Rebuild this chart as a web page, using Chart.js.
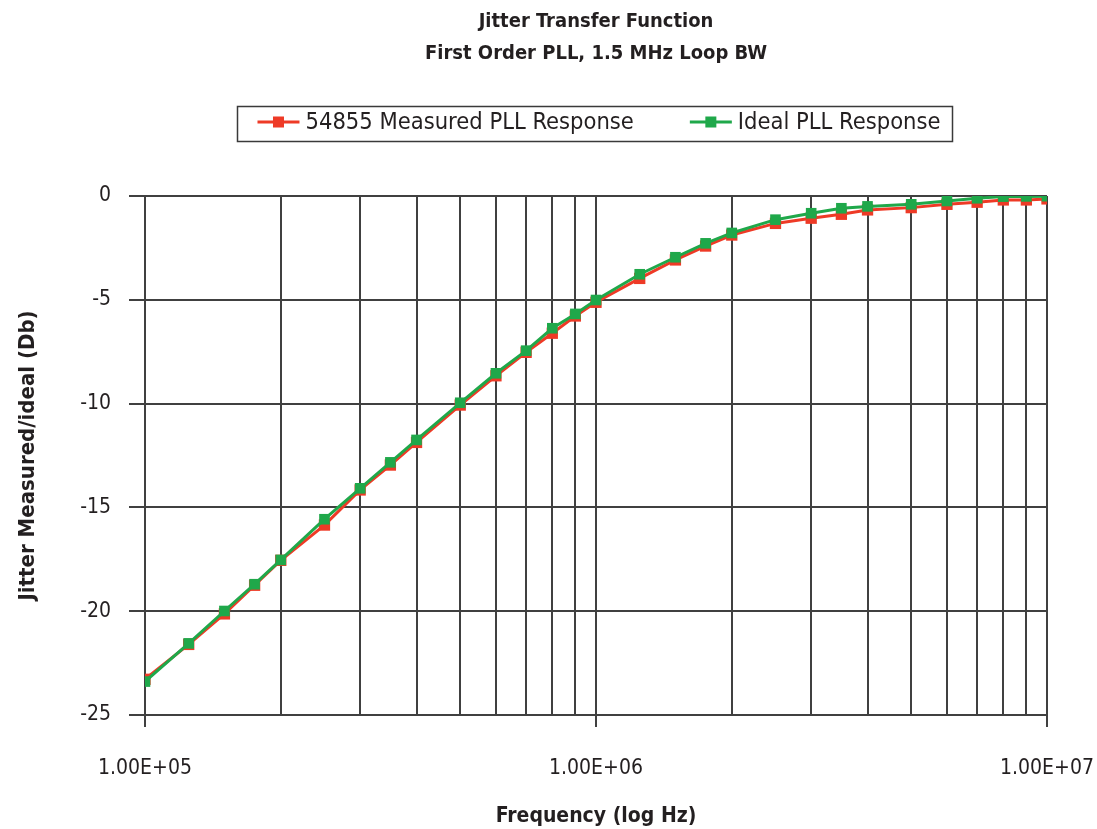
<!DOCTYPE html>
<html><head><meta charset="utf-8">
<script src="https://cdn.jsdelivr.net/npm/chart.js@4.4.1/dist/chart.umd.min.js"></script>
<style>html,body{margin:0;padding:0;background:#fff;}#wrap{width:1097px;height:829px;position:relative;}</style>
</head><body><div id="wrap"><canvas id="c"></canvas></div>
<script>
// ---- data ----
const frequencies = [1e5,1.25e5,1.5e5,1.75e5,2e5,2.5e5,3e5,3.5e5,4e5,5e5,6e5,7e5,8e5,9e5,
  1e6,1.25e6,1.5e6,1.75e6,2e6,2.5e6,3e6,3.5e6,4e6,5e6,6e6,7e6,8e6,9e6,1e7];
const measuredDb = [-23.28,-21.60,-20.13,-18.75,-17.55,-15.85,-14.16,-12.96,-11.87,-10.07,-8.66,-7.53,-6.61,-5.78,
  -5.12,-3.97,-3.08,-2.41,-1.88,-1.32,-1.07,-0.88,-0.67,-0.56,-0.40,-0.30,-0.19,-0.19,-0.14];
const idealDb = [-23.39,-21.55,-19.99,-18.70,-17.53,-15.57,-14.08,-12.83,-11.75,-9.96,-8.54,-7.45,-6.37,-5.68,
  -5.01,-3.77,-2.95,-2.28,-1.78,-1.14,-0.83,-0.59,-0.50,-0.40,-0.24,-0.11,-0.03,-0.02,-0.01];
const seriesNames = ['54855 Measured PLL Response','Ideal PLL Response'];
const titleLines = ['Jitter Transfer Function','First Order PLL, 1.5 MHz Loop BW'];
const xAxisTitle = 'Frequency (log Hz)';
const yAxisTitle = 'Jitter Measured/ideal (Db)';
const xDecades = [1e5,1e6];
const xMultipliers = [1,2,3,4,5,6,7,8,9];
const xMax = 1e7;
const xLabelValues = [1e5,1e6,1e7];
const xLabelTexts = ['1.00E+05','1.00E+06','1.00E+07'];
const yMin = -25, yMax = 0, yStep = 5;

// ---- style ----
const FONT = "'Liberation Sans Narrow','DejaVu Sans Condensed','Roboto Condensed','Arial Narrow',Roboto,sans-serif";
const TEXT = '#231f20';
const GRID = '#404040';
const RED = '#ee3a26';
const GREEN = '#1fa84a';

const xGridValues = [];
xDecades.forEach(d => xMultipliers.forEach(m => xGridValues.push(d*m)));
xGridValues.push(xMax);
const isLabelled = v => xLabelValues.some(l => Math.abs(l - v) / l < 1e-9);

const legendBox = {
  id: 'legendBox',
  afterDraw(chart) {
    const ctx = chart.ctx, ca = chart.chartArea;
    ctx.save();
    ctx.font = '23.5px ' + FONT;
    const items = chart.data.datasets.map(ds => ({text: ds.label, color: ds.borderColor, w: ctx.measureText(ds.label).width}));
    const markW = 42, gapT = 6, gapI = 56;
    const content = items.reduce((a, it) => a + markW + gapT + it.w, 0) + gapI * (items.length - 1);
    const cx = (ca.left + ca.right) / 2 + 3;
    const cy = ca.top - 74;
    let x = cx - content / 2;
    ctx.strokeStyle = '#3a3a3a';
    ctx.lineWidth = 1.5;
    ctx.strokeRect(Math.round(x - 20) + 0.5, Math.round(cy - 16) + 0.5, Math.round(content + 32), 35);
    items.forEach(it => {
      ctx.strokeStyle = it.color; ctx.lineWidth = 3;
      ctx.beginPath(); ctx.moveTo(x, cy); ctx.lineTo(x + markW, cy); ctx.stroke();
      ctx.fillStyle = it.color;
      ctx.fillRect(x + markW / 2 - 5.5, cy - 5.5, 11, 11);
      ctx.fillStyle = TEXT; ctx.textBaseline = 'middle'; ctx.textAlign = 'left';
      ctx.fillText(it.text, x + markW + gapT, cy + 1);
      x += markW + gapT + it.w + gapI;
    });
    ctx.restore();
  }
};

new Chart(document.getElementById('c'), {
  type: 'line',
  data: {
    datasets: [
      {label: seriesNames[0], data: frequencies.map((f, i) => ({x: f, y: measuredDb[i]})),
       borderColor: RED, backgroundColor: RED, borderWidth: 3, pointStyle: 'rect', pointRadius: 8,
       pointBorderWidth: 0, tension: 0, order: 2},
      {label: seriesNames[1], data: frequencies.map((f, i) => ({x: f, y: idealDb[i]})),
       borderColor: GREEN, backgroundColor: GREEN, borderWidth: 3, pointStyle: 'rect', pointRadius: 7.5,
       pointBorderWidth: 0, tension: 0, order: 1}
    ]
  },
  options: {
    responsive: true, maintainAspectRatio: false, animation: false, devicePixelRatio: 1,
    layout: {padding: {left: 0, right: 50, top: 0, bottom: 0}},
    plugins: {
      legend: {display: false},
      tooltip: {enabled: false},
      title: {display: true, text: titleLines, fullSize: false, color: TEXT,
        font: {family: FONT, size: 20, weight: 'bold', lineHeight: 1.6},
        padding: {top: 6, bottom: 126}}
    },
    scales: {
      x: {
        type: 'logarithmic', min: 1e5, max: xMax,
        afterBuildTicks: s => { s.ticks = xGridValues.map(v => ({value: v, major: isLabelled(v)})); },
        afterFit: s => { s.height = 114; s.paddingLeft = 0; s.paddingRight = 0; },
        ticks: {autoSkip: false, maxRotation: 0, minRotation: 0, padding: 29, color: TEXT,
          font: {family: FONT, size: 21},
          callback: v => { const i = xLabelValues.findIndex(l => Math.abs(l - v) / l < 1e-9); return i >= 0 ? xLabelTexts[i] : ''; }},
        grid: {color: GRID, lineWidth: 2, tickLength: 12,
          tickColor: c => (c.tick && isLabelled(c.tick.value)) ? GRID : 'rgba(0,0,0,0)'},
        border: {color: GRID, width: 2},
        title: {display: true, text: xAxisTitle, color: TEXT, font: {family: FONT, size: 21, weight: 'bold'},
          padding: {top: 0, bottom: 0}}
      },
      y: {
        min: yMin, max: yMax,
        afterFit: s => { s.width = 145; },
        ticks: {stepSize: yStep, padding: 18, color: TEXT, font: {family: FONT, size: 21}},
        grid: {color: GRID, lineWidth: 2, tickLength: 16, tickColor: GRID},
        border: {color: GRID, width: 2},
        title: {display: true, text: yAxisTitle, color: TEXT, font: {family: FONT, size: 22, weight: 'bold'},
          padding: {top: 15, bottom: 0}}
      }
    }
  },
  plugins: [legendBox]
});
</script></body></html>
